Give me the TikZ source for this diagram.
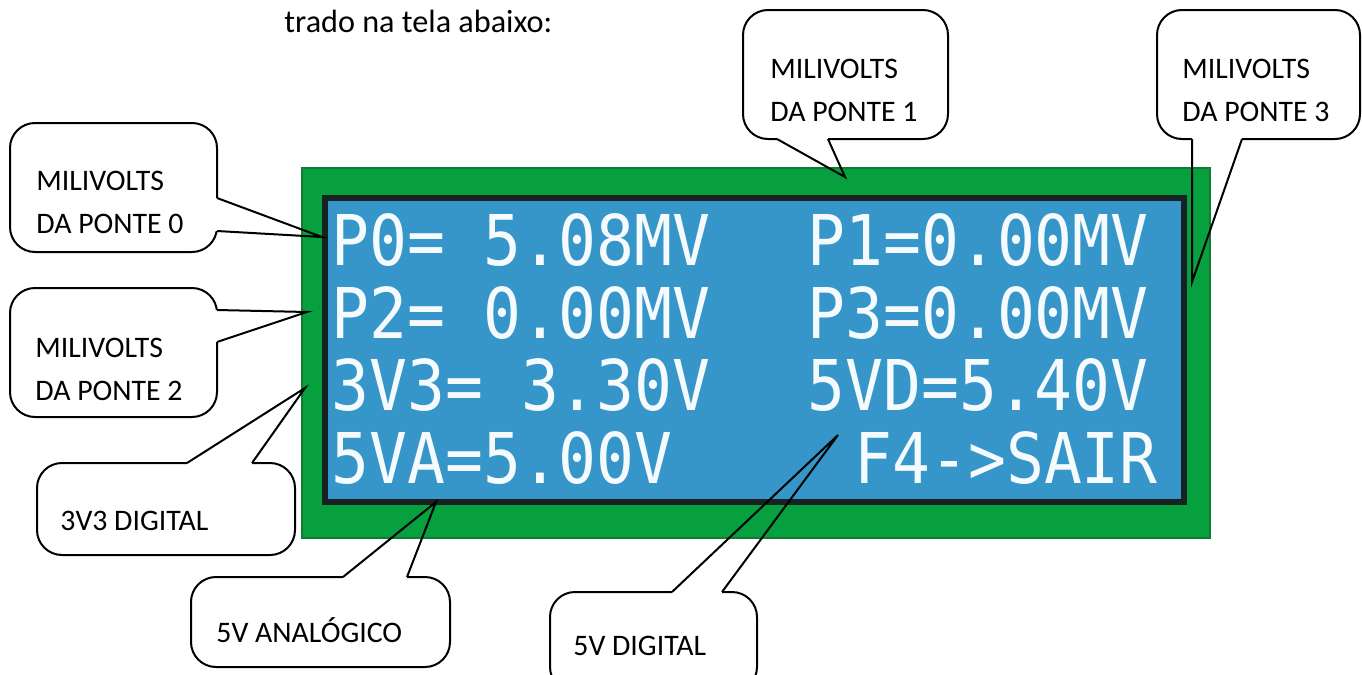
\documentclass[tikz,border=0pt]{standalone}
\usepackage{fontspec}
\setmainfont{Carlito}
\newfontfamily\lcdfont[FakeStretch=0.9]{DejaVu Sans Mono}
\usepackage{tikz}
\usetikzlibrary{positioning, calc}
\definecolor{boardgreen}{RGB}{6,160,62}
\definecolor{boardedge}{RGB}{18,122,52}
\definecolor{screenblue}{RGB}{54,150,201}
\definecolor{screenframe}{RGB}{24,34,34}

\begin{document}
\begin{tikzpicture}[
    x=0.5pt, y=-0.5pt,
    bubble/.style={
        rectangle,
        rounded corners=12.5pt,
        draw=black,
        line width=1pt,
        fill=white,
        anchor=north west,
        inner sep=0pt,
        outer sep=0pt
    },
    bubbletext/.style={inner sep=0pt, align=left, font=\fontsize{14.9}{21.5}\selectfont},
    pointer/.style={draw=black, line width=1pt, line join=miter},
    gapfill/.style={draw=white, line width=1.8pt},
    lcdtext/.style={inner sep=0pt, anchor=base west, text=white!95!screenblue, font=\lcdfont\fontsize{35}{35}\selectfont}
]
\useasboundingbox (0,0) rectangle (1362,675);

% Intro line
\node (intro) [inner sep=0pt, anchor=base west, font=\fontsize{16.1}{18}\selectfont] at (284,32) {trado na tela abaixo:};

%% LCD MODULE %%
\node (board) [rectangle, fill=boardgreen, draw=boardedge, line width=1pt, minimum width=454pt, minimum height=185pt, anchor=north west, inner sep=0pt, outer sep=0pt] at (302,168) {};

\node (screen) [rectangle, fill=screenblue, draw=screenframe, line width=3pt, minimum width=429.5pt, minimum height=152pt, anchor=north west, inner sep=0pt, outer sep=0pt] at (325,198) {};

%% LCD READINGS %%
\node (readP0) [lcdtext] at (331,265) {P0= 5.08MV};
\node (readP2) [lcdtext] at (331,338) {P2= 0.00MV};
\node (read3V3) [lcdtext] at (331,410) {3V3= 3.30V};
\node (read5VA) [lcdtext] at (331,483) {5VA=5.00V};
\node (readP1) [lcdtext] at (807,265) {P1=0.00MV};
\node (readP3) [lcdtext] at (807,338) {P3=0.00MV};
\node (read5VD) [lcdtext] at (807,410) {5VD=5.40V};
\node (readExit) [lcdtext] at (854,483) {F4->SAIR};

%% CALLOUTS - LEFT %%
\node (boxP0) [bubble, minimum width=103.5pt, minimum height=64.5pt] at (10,123) {};
\node (txtP0) [bubbletext, below right=24pt and 13pt of boxP0.north west] {MILIVOLTS\\DA PONTE 0};

\node (boxP2) [bubble, minimum width=103.5pt, minimum height=64.5pt] at (10,288) {};
\node (txtP2) [bubbletext, below right=25pt and 12.5pt of boxP2.north west] {MILIVOLTS\\DA PONTE 2};

\node (box3V3) [bubble, minimum width=129pt, minimum height=46pt] at (37,463) {};
\node (txt3V3) [bubbletext, text height=9.5pt, below right=24pt and 11.5pt of box3V3.north west] {3V3 DIGITAL};

%% CALLOUTS - TOP %%
\node (boxP1) [bubble, minimum width=102.5pt, minimum height=64.5pt] at (743,10) {};
\node (txtP1) [bubbletext, below right=24.5pt and 13.5pt of boxP1.north west] {MILIVOLTS\\DA PONTE 1};

\node (boxP3) [bubble, minimum width=101.5pt, minimum height=64.5pt] at (1157,10) {};
\node (txtP3) [bubbletext, below right=24.5pt and 12.5pt of boxP3.north west] {MILIVOLTS\\DA PONTE 3};

%% CALLOUTS - BOTTOM %%
\node (box5VA) [bubble, minimum width=129.5pt, minimum height=45pt] at (191,577) {};
\node (txt5VA) [bubbletext, text height=9.5pt, below right=23pt and 12.5pt of box5VA.north west] {5V ANALÓGICO};

\node (box5VD) [bubble, minimum width=103.5pt, minimum height=50pt] at (550,592) {};
\node (txt5VD) [bubbletext, text height=9.5pt, below right=22pt and 11.5pt of box5VD.north west] {5V DIGITAL};

%% POINTERS %%
\coordinate (tipP0) at (322,237);
\coordinate (tipP2) at (307,312);
\coordinate (tip3V3) at (305,388);
\coordinate (tipP1) at (845,177);
\coordinate (tipP3) at (1192,282);
\coordinate (tip5VA) at (436,502);
\coordinate (tip5VD) at (838,435);

\draw [gapfill] ($(boxP0.north east)+(0,75)$) -- ($(boxP0.north east)+(0,108)$);
\draw [pointer] ($(boxP0.north east)+(0,75)$) -- (tipP0) -- ($(boxP0.north east)+(0,108)$);

\draw [gapfill] ($(boxP2.north east)+(0,22)$) -- ($(boxP2.north east)+(0,54)$);
\draw [pointer] ($(boxP2.north east)+(0,22)$) -- (tipP2) -- ($(boxP2.north east)+(0,54)$);

\draw [gapfill] ($(box3V3.north west)+(150,0)$) -- ($(box3V3.north west)+(215,0)$);
\draw [pointer] ($(box3V3.north west)+(150,0)$) -- (tip3V3) -- ($(box3V3.north west)+(215,0)$);

\draw [gapfill] ($(boxP1.south west)+(34,0)$) -- ($(boxP1.south west)+(85,0)$);
\draw [pointer] ($(boxP1.south west)+(34,0)$) -- (tipP1) -- ($(boxP1.south west)+(85,0)$);

\draw [gapfill] ($(boxP3.south west)+(35,0)$) -- ($(boxP3.south west)+(85,0)$);
\draw [pointer] ($(boxP3.south west)+(35,0)$) -- (tipP3) -- ($(boxP3.south west)+(85,0)$);

\draw [gapfill] ($(box5VA.north west)+(152,0)$) -- ($(box5VA.north west)+(216,0)$);
\draw [pointer] ($(box5VA.north west)+(152,0)$) -- (tip5VA) -- ($(box5VA.north west)+(216,0)$);

\draw [gapfill] ($(box5VD.north west)+(122,0)$) -- ($(box5VD.north west)+(172,0)$);
\draw [pointer] ($(box5VD.north west)+(122,0)$) -- (tip5VD) -- ($(box5VD.north west)+(172,0)$);

\end{tikzpicture}
\end{document}
